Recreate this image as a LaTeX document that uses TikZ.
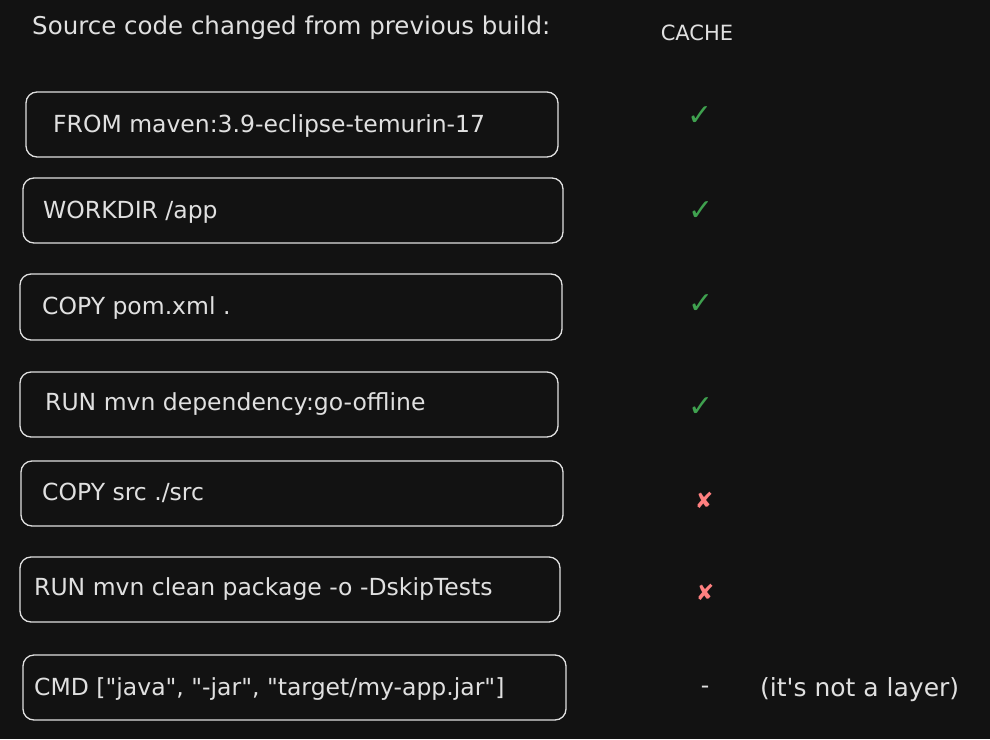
\documentclass[tikz,border=0pt]{standalone}
\usepackage{fontspec}
\newfontfamily\codefont{DejaVu Sans}
\newfontfamily\symfont{DejaVu Sans}
\definecolor{bg}{HTML}{121212}
\definecolor{ink}{HTML}{E0E0E0}
\definecolor{okgreen}{HTML}{3FA14F}
\definecolor{badred}{HTML}{FF8080}
\begin{document}
\begin{tikzpicture}[x=1pt,y=-1pt,
  layerbox/.style={draw=ink, line width=1.3pt, rounded corners=11pt, minimum height=65pt, inner sep=0pt},
  codetxt/.style={text=ink, anchor=west, font=\codefont\fontsize{23.5}{28}\selectfont, inner sep=0pt},
  headtxt/.style={text=ink, font=\codefont\fontsize{23.5}{28}\selectfont, inner sep=0pt},
  okmark/.style={text=okgreen, font=\symfont\fontsize{30}{34}\selectfont, inner sep=0pt},
  badmark/.style={text=badred, font=\symfont\fontsize{22}{26}\selectfont, inner sep=0pt}]
\fill[bg] (0,0) rectangle (990,739);
\useasboundingbox (0,0) rectangle (990,739);

\node[headtxt, anchor=west, font=\codefont\fontsize{24.5}{29}\selectfont] (title) at (32,28) {Source code changed from previous build:};
\node[headtxt, font=\codefont\fontsize{21}{25}\selectfont] (cache) at (697,33) {CACHE};

\node[layerbox, minimum width=532pt] (b1) at (292,124.5) {};
\node[layerbox, minimum width=540pt] (b2) at (293,210.5) {};
\node[layerbox, minimum width=542pt, minimum height=66pt] (b3) at (291,307) {};
\node[layerbox, minimum width=538pt] (b4) at (289,404.5) {};
\node[layerbox, minimum width=542pt] (b5) at (292,493.5) {};
\node[layerbox, minimum width=540pt] (b6) at (290,589.5) {};
\node[layerbox, minimum width=543pt] (b7) at (294.5,687.5) {};

\node[codetxt] (t1) at (53,126) {FROM maven:3.9-eclipse-temurin-17};
\node[codetxt] (t2) at (43,212) {WORKDIR /app};
\node[codetxt] (t3) at (42,308) {COPY pom.xml .};
\node[codetxt] (t4) at (45,404) {RUN mvn dependency:go-offline};
\node[codetxt] (t5) at (42,493) {COPY src ./src};
\node[codetxt] (t6) at (34,589) {RUN mvn clean package -o -DskipTests};
\node[codetxt] (t7) at (34,689) {CMD ["java", "-jar", "target/my-app.jar"]};

\node[okmark] (c1) at (700,116) {✓};
\node[okmark] (c2) at (701,211) {✓};
\node[okmark] (c3) at (701,304) {✓};
\node[okmark] (c4) at (701,407) {✓};
\node[badmark] (c5) at (704,500) {✘};
\node[badmark] (c6) at (705,592) {✘};
\node[headtxt] (c7) at (705,690) {-};
\node[headtxt, anchor=west, font=\codefont\fontsize{25}{30}\selectfont] (note) at (760,690) {(it's not a layer)};
\end{tikzpicture}
\end{document}
